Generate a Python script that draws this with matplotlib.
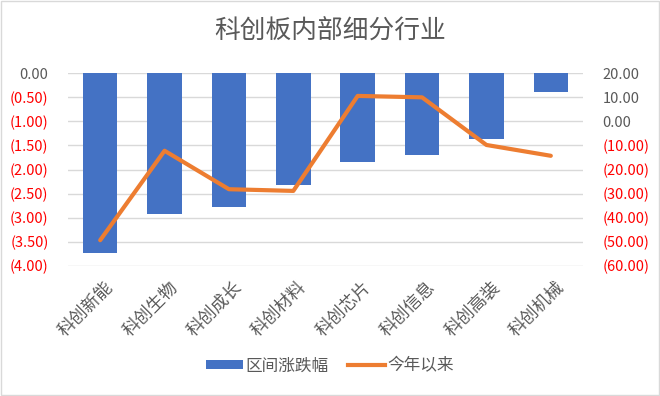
import matplotlib

matplotlib.use("Agg")

import matplotlib.pyplot as plt
import matplotlib.transforms as mtransforms
from matplotlib.lines import Line2D
from matplotlib.patches import Patch, Rectangle

plt.rcParams["font.family"] = ["Noto Sans CJK SC", "DejaVu Sans"]

categories = ["科创新能", "科创生物", "科创成长", "科创材料",
              "科创芯片", "科创信息", "科创高装", "科创机械"]
interval_change = [-3.74, -2.93, -2.78, -2.32, -1.84, -1.69, -1.37, -0.38]
ytd_change = [-49.4, -12.2, -28.2, -28.9, 10.6, 10.0, -9.8, -14.3]
left_ticks = [0, -0.5, -1.0, -1.5, -2.0, -2.5, -3.0, -3.5, -4.0]
right_ticks = [20, 10, 0, -10, -20, -30, -40, -50, -60]

BLUE = "#4472C4"
ORANGE = "#ED7D31"
GRAY = "#595959"
RED = "#FF0000"
GRID = "#D9D9D9"


def fmt(v):
    return f"({abs(v):.2f})" if v < 0 else f"{v:.2f}"


fig = plt.figure(figsize=(6.6, 3.96), dpi=100)
ax = fig.add_axes([68 / 660, 1 - 265.7 / 396, 515 / 660, 192.4 / 396])
ax2 = ax.twinx()

x = list(range(len(categories)))
ax.bar(x, interval_change, width=0.535, color=BLUE, zorder=2)
ax2.plot(x, ytd_change, color=ORANGE, linewidth=3, solid_capstyle="round",
         solid_joinstyle="round", zorder=3)

ax.set_xlim(-0.5, len(categories) - 0.5)
ax.set_ylim(-4, 0)
ax2.set_ylim(-60, 20)

ax.set_yticks(left_ticks)
ax.set_yticklabels([fmt(v) for v in left_ticks])
for lab, v in zip(ax.get_yticklabels(), left_ticks):
    lab.set_color(RED if v < 0 else GRAY)
ax2.set_yticks(right_ticks)
ax2.set_yticklabels([fmt(v) for v in right_ticks])
for lab, v in zip(ax2.get_yticklabels(), right_ticks):
    lab.set_color(RED if v < 0 else GRAY)

ax.grid(axis="y", color=GRID, linewidth=1, zorder=0)
ax.set_axisbelow(True)
for a in (ax, ax2):
    for s in a.spines.values():
        s.set_visible(False)
    a.tick_params(axis="y", length=0, labelsize=10.5)
ax.tick_params(axis="y", pad=14)
ax2.tick_params(axis="y", pad=14)

ax.set_xticks(x)
ax.set_xticklabels(categories, rotation=45, ha="right", rotation_mode="anchor",
                   color=GRAY, fontsize=12.5)
ax.tick_params(axis="x", length=0, pad=9)
shift = mtransforms.ScaledTranslation(4 / 100, 0, fig.dpi_scale_trans)
for lab in ax.get_xticklabels():
    lab.set_transform(lab.get_transform() + shift)

fig.text(0.5, 1 - 32 / 396, "科创板内部细分行业", ha="center", va="center",
         fontsize=18.5, color=GRAY)

handles = [Patch(facecolor=BLUE), Line2D([], [], color=ORANGE, linewidth=3)]
fig.legend(handles, ["区间涨跌幅", "今年以来"], loc="center",
           bbox_to_anchor=(0.5, 1 - 366 / 396), ncol=2, frameon=False,
           fontsize=12, labelcolor=GRAY, handlelength=2.2, handleheight=0.45,
           handletextpad=0.15, columnspacing=1.2)

fig.patches.append(Rectangle((0.002, 0.003), 0.996, 0.994, transform=fig.transFigure,
                             fill=False, edgecolor=GRID, linewidth=1))

fig.savefig("out.png", dpi=100)
